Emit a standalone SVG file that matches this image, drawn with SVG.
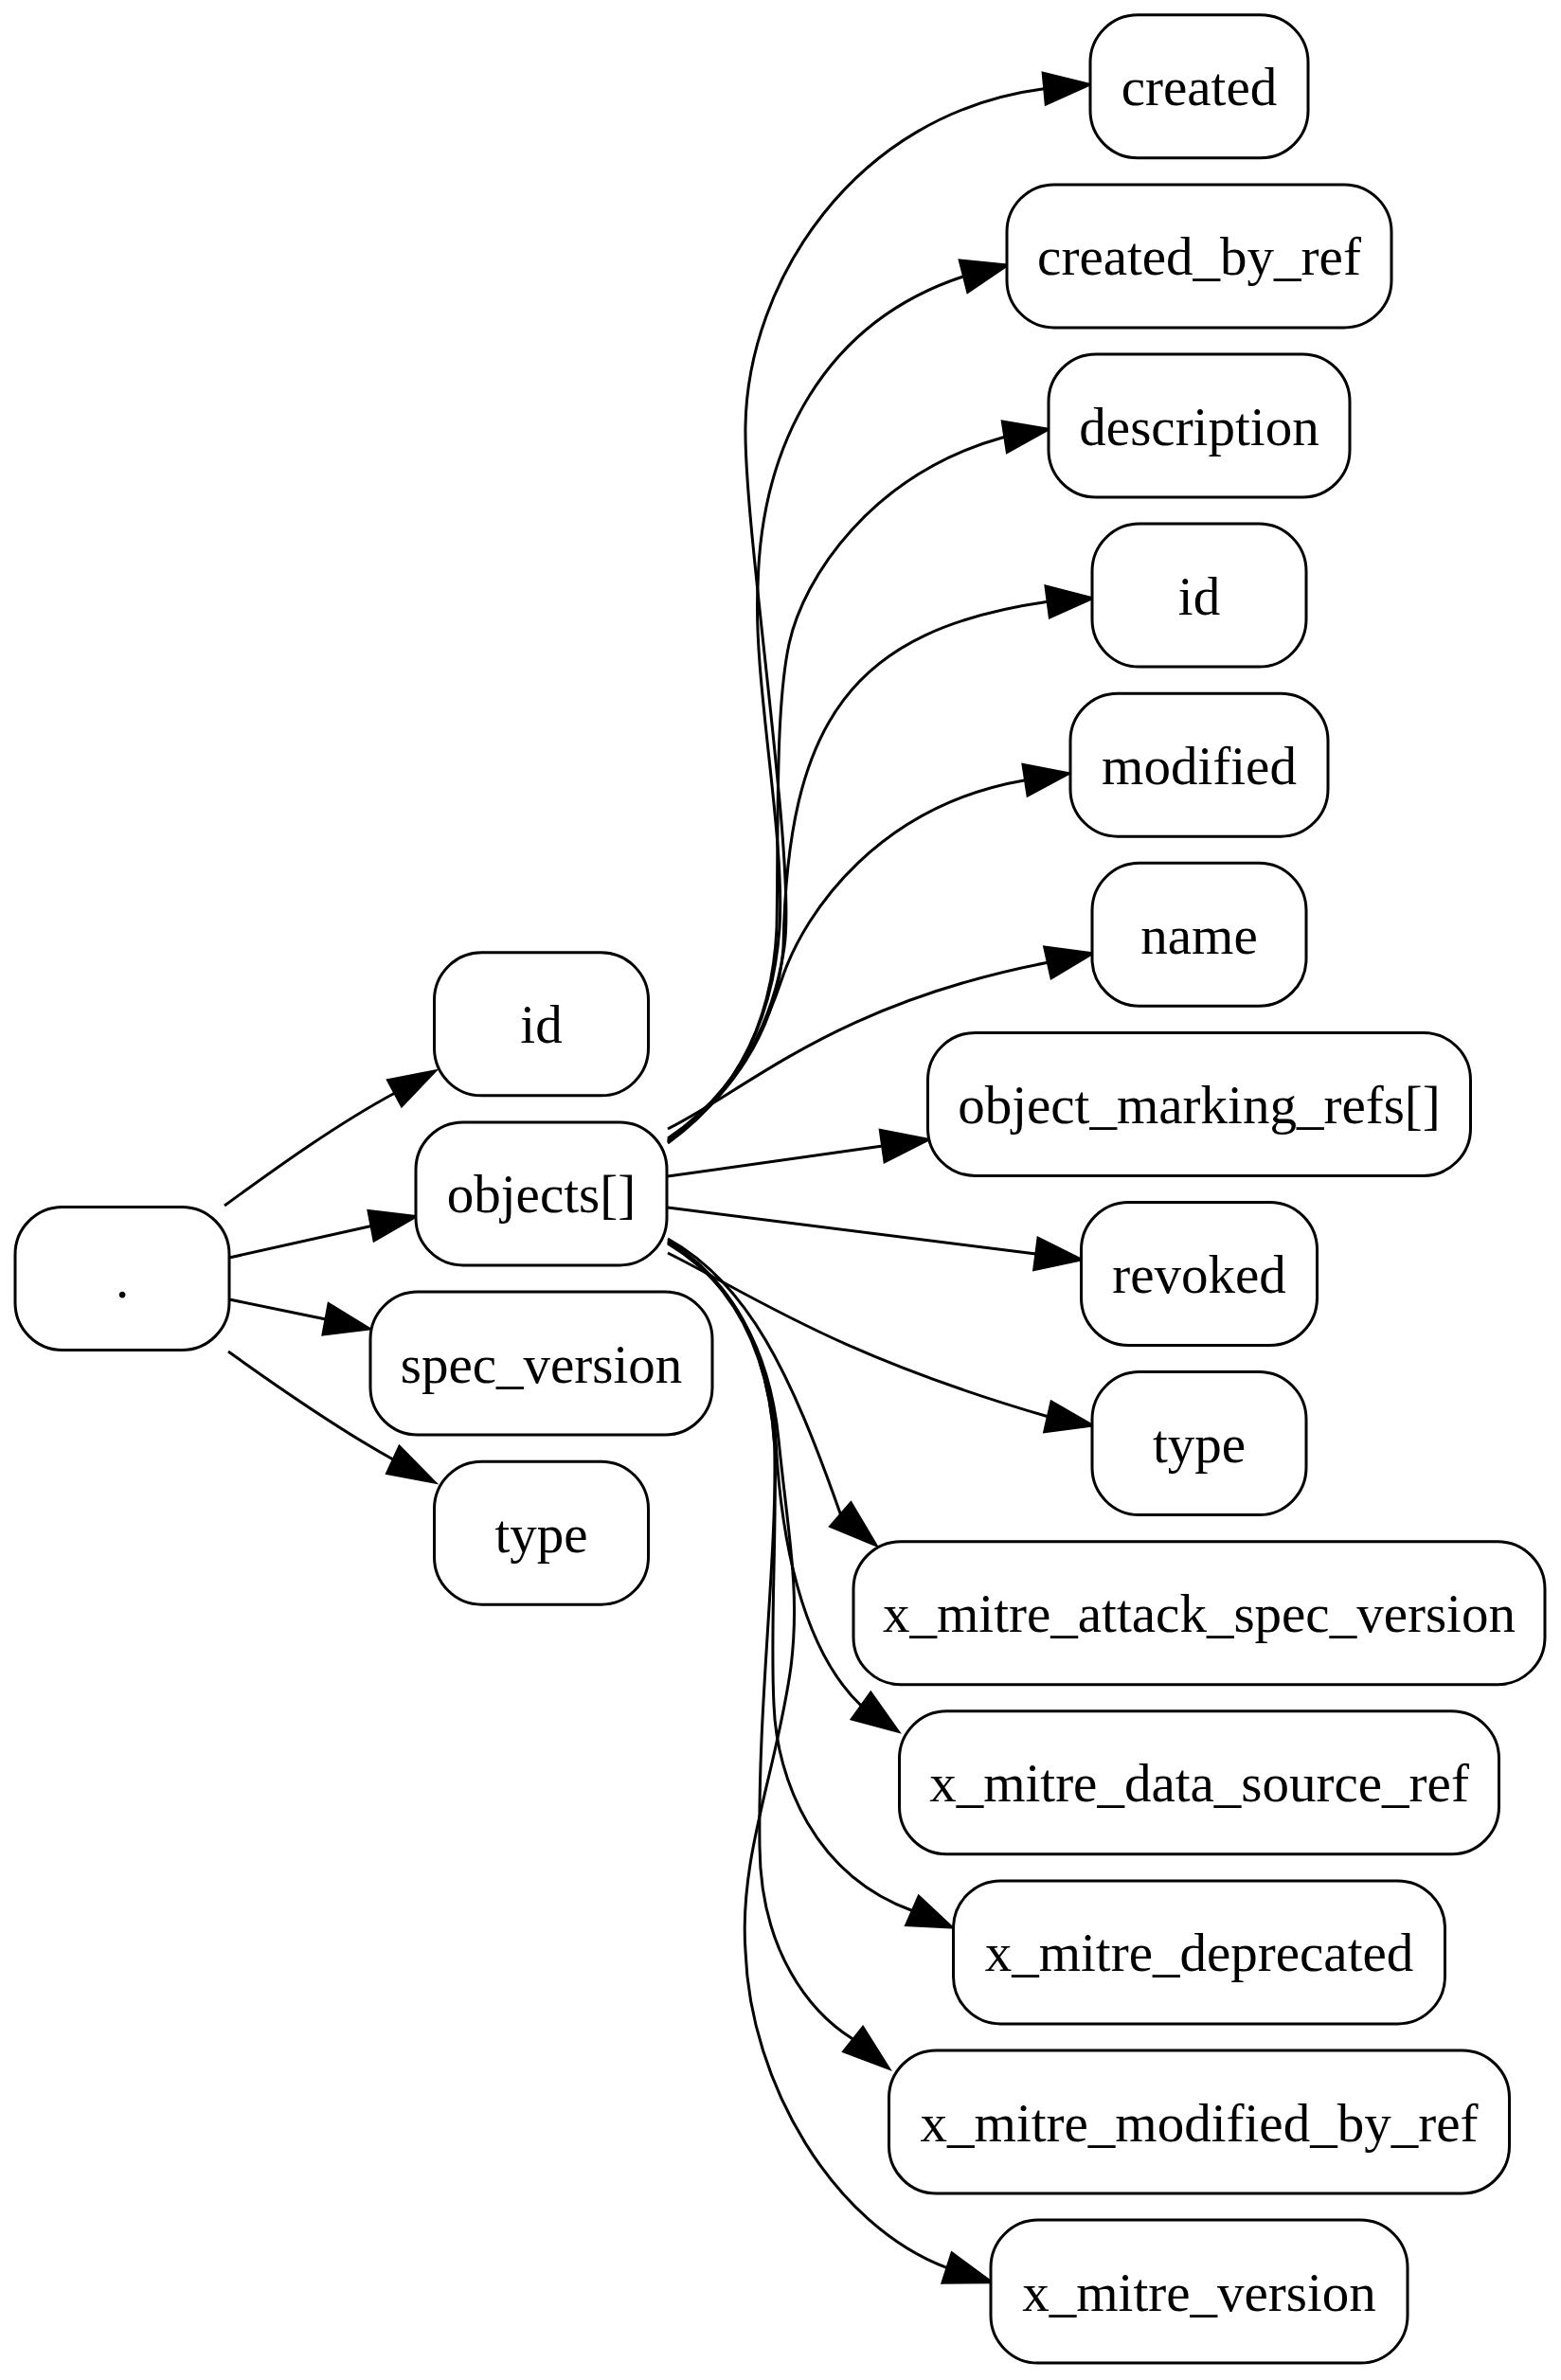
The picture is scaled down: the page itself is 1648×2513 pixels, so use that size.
<svg xmlns="http://www.w3.org/2000/svg" width="1648" height="2513" viewBox="0 0 1648 2513">
<style>
.node rect { fill: #ffffff; stroke: #000000; stroke-width: 3; }
.node text { font-family: "Liberation Serif", "Times New Roman", serif; font-size: 57px; text-anchor: middle; fill: #000000; }
.edge path { fill: none; stroke: #000000; stroke-width: 3; }
.edge polygon { fill: #000000; stroke: #000000; stroke-width: 3; }
</style>
<rect x="0" y="0" width="1648" height="2513" fill="#ffffff"/>
<g id="edges">
  <g class="edge" id="e-root-id"><path d="M237,1273 C280,1242 350,1190 417,1154"/><polygon points="459,1131 409.6,1140.5 424.1,1167.8"/></g>
  <g class="edge" id="e-root-objects"><path d="M242,1328 L392,1294.5"/><polygon points="439,1284.4 389,1278.5 395,1310"/></g>
  <g class="edge" id="e-root-spec"><path d="M242,1372 L344,1393"/><polygon points="390,1403 347,1376.6 341,1409"/></g>
  <g class="edge" id="e-root-type"><path d="M241,1427 C280,1455 350,1505 415,1541"/><polygon points="459,1565.2 421.7,1527.4 408.6,1555.7"/></g>

  <g class="edge" id="e-obj-created"><path d="M705,1207 C770,1160 815,1090 828,1000 C841,910 785,560 787,450 C789,300 900,120 1102,93.7"/><polygon points="1150,89.3 1101.2,77.3 1104.2,110.1"/></g>
  <g class="edge" id="e-obj-created_by_ref"><path d="M705,1206 C770,1160 815,1090 823,980 C829,880 795,720 800,620 C803,470 870,340 1017.5,291.7"/><polygon points="1063.3,280 1013.3,275 1021.7,308.3"/></g>
  <g class="edge" id="e-obj-description"><path d="M705,1205 C770,1160 815,1090 820,980 C822,880 818,750 833,680 C848,610 920,500 1060.8,461.2"/><polygon points="1106.7,453.3 1058.3,445 1063.3,477.3"/></g>
  <g class="edge" id="e-obj-id"><path d="M705,1204 C770,1160 820,1090 827,1000 C831,760 900,665 1106.2,635.3"/><polygon points="1153.3,631.7 1104,619 1108.3,651.7"/></g>
  <g class="edge" id="e-obj-modified"><path d="M705,1202 C760,1165 800,1110 825,1035 C850,960 930,850 1082.5,823.7"/><polygon points="1128.3,816.7 1080,807.3 1085,840"/></g>
  <g class="edge" id="e-obj-name"><path d="M705,1192 C790,1150 880,1060 1106.3,1016.3"/><polygon points="1153.3,1006.7 1102.7,1000 1110,1032.7"/></g>
  <g class="edge" id="e-obj-omr"><path d="M705,1242 L931.7,1210"/><polygon points="980,1203.3 929.3,1193.3 934,1226.7"/></g>
  <g class="edge" id="e-obj-revoked"><path d="M705,1275 L1093.8,1324"/><polygon points="1141.7,1330 1096,1307.3 1091.7,1340.7"/></g>
  <g class="edge" id="e-obj-type"><path d="M705,1323 C790,1365 880,1430 1106.3,1495.8"/><polygon points="1153.3,1505 1110,1480 1102.7,1511.7"/></g>
  <g class="edge" id="e-obj-attack"><path d="M705,1308 C790,1355 835,1450 887.5,1599.2"/><polygon points="925,1631.7 898.3,1586.7 876.7,1611.7"/></g>
  <g class="edge" id="e-obj-datasource"><path d="M705,1310 C770,1350 812,1420 819,1520 C824,1620 845,1740 909.3,1801.2"/><polygon points="948.3,1828.3 919.3,1787.3 899.3,1815"/></g>
  <g class="edge" id="e-obj-deprecated"><path d="M705,1311 C770,1350 812,1420 818,1530 C820,1620 813,1720 817,1800 C820,1880 860,1980 963.3,2017.5"/><polygon points="1005,2035 970,2002.3 956.7,2032.7"/></g>
  <g class="edge" id="e-obj-modifiedby"><path d="M705,1312 C770,1352 812,1420 818,1530 C820,1650 800,1800 802,1950 C803,2060 855,2125 900.8,2153.3"/><polygon points="938.3,2184 911,2140.7 890.7,2166"/></g>
  <g class="edge" id="e-obj-version"><path d="M705,1313 C770,1352 812,1420 822,1520 C832,1620 845,1680 835,1760 C820,1870 780,1960 787,2060 C792,2200 880,2350 1000,2394.7"/><polygon points="1046.7,2409.7 1005,2379 995,2410.3"/></g>
</g>

<g class="node" id="n-root"><rect x="16" y="1274.5" width="226" height="151" rx="50" ry="50"/><text x="129" y="1370">.</text></g>
<g class="node" id="n-id"><rect x="458.5" y="1005.85" width="226" height="151" rx="50" ry="50"/><text x="571.5" y="1101.35">id</text></g>
<g class="node" id="n-objects"><rect x="439" y="1184.95" width="265" height="151" rx="50" ry="50"/><text x="571.5" y="1280.45">objects[]</text></g>
<g class="node" id="n-spec_version"><rect x="391" y="1364.05" width="361" height="151" rx="50" ry="50"/><text x="571.5" y="1459.55">spec_version</text></g>
<g class="node" id="n-type"><rect x="458.5" y="1543.15" width="226" height="151" rx="50" ry="50"/><text x="571.5" y="1638.65">type</text></g>

<g class="node" id="n-obj-created"><rect x="1151" y="15.8" width="230" height="151" rx="50" ry="50"/><text x="1266" y="111.3">created</text></g>
<g class="node" id="n-obj-created_by_ref"><rect x="1063" y="194.9" width="406" height="151" rx="50" ry="50"/><text x="1266" y="290.4">created_by_ref</text></g>
<g class="node" id="n-obj-description"><rect x="1107" y="374" width="318" height="151" rx="50" ry="50"/><text x="1266" y="469.5">description</text></g>
<g class="node" id="n-obj-id"><rect x="1153" y="553.1" width="226" height="151" rx="50" ry="50"/><text x="1266" y="648.6">id</text></g>
<g class="node" id="n-obj-modified"><rect x="1130" y="732.2" width="272" height="151" rx="50" ry="50"/><text x="1266" y="827.7">modified</text></g>
<g class="node" id="n-obj-name"><rect x="1153" y="911.3" width="226" height="151" rx="50" ry="50"/><text x="1266" y="1006.8">name</text></g>
<g class="node" id="n-obj-object_marking_refs"><rect x="979.5" y="1090.4" width="573" height="151" rx="50" ry="50"/><text x="1266" y="1185.9">object_marking_refs[]</text></g>
<g class="node" id="n-obj-revoked"><rect x="1141.5" y="1269.5" width="249" height="151" rx="50" ry="50"/><text x="1266" y="1365">revoked</text></g>
<g class="node" id="n-obj-type"><rect x="1153" y="1448.6" width="226" height="151" rx="50" ry="50"/><text x="1266" y="1544.1">type</text></g>
<g class="node" id="n-obj-attack"><rect x="901" y="1627.7" width="730" height="151" rx="50" ry="50"/><text x="1266" y="1723.2">x_mitre_attack_spec_version</text></g>
<g class="node" id="n-obj-datasource"><rect x="949.5" y="1806.8" width="633" height="151" rx="50" ry="50"/><text x="1266" y="1902.3">x_mitre_data_source_ref</text></g>
<g class="node" id="n-obj-deprecated"><rect x="1006.5" y="1985.9" width="519" height="151" rx="50" ry="50"/><text x="1266" y="2081.4">x_mitre_deprecated</text></g>
<g class="node" id="n-obj-modifiedby"><rect x="938.5" y="2165" width="655" height="151" rx="50" ry="50"/><text x="1266" y="2260.5">x_mitre_modified_by_ref</text></g>
<g class="node" id="n-obj-version"><rect x="1046" y="2344.1" width="440" height="151" rx="50" ry="50"/><text x="1266" y="2439.6">x_mitre_version</text></g>
</svg>
